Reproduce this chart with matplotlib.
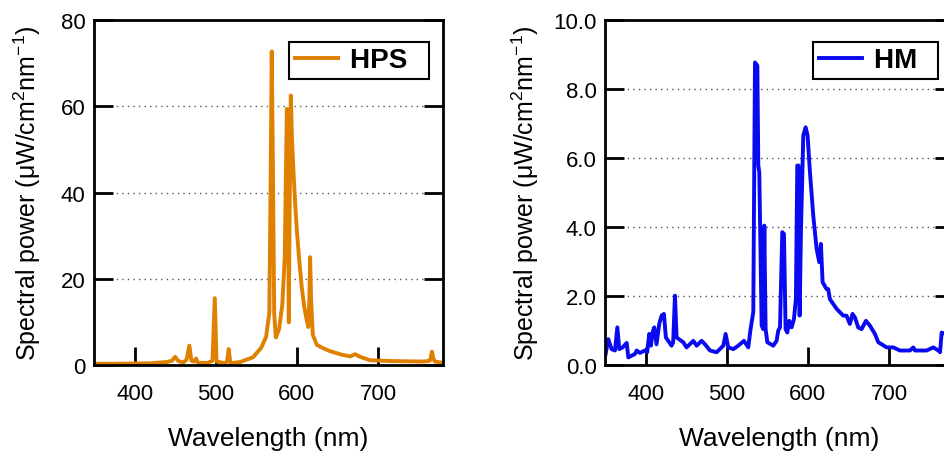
import matplotlib.pyplot as plt
import numpy as np

plt.rcParams['font.family'] = ['Liberation Sans', 'DejaVu Sans']
plt.rcParams['mathtext.fontset'] = 'custom'
plt.rcParams['mathtext.rm'] = 'Liberation Sans'
plt.rcParams['mathtext.it'] = 'Liberation Sans:italic'

# HPS lamp spectrum
hps_wl = [350, 380, 420, 440, 446, 450, 454, 460, 464, 467.5, 470, 473, 475.8, 478, 490,
          496, 498.8, 501, 512, 514, 516, 518, 530, 546, 556, 562, 566, 567.5, 569,
          570.5, 572, 574, 578, 582, 585, 587.6, 589, 590, 591, 592.5, 594, 596,
          598, 600, 603, 606, 609, 612, 614, 615.3, 616.3, 617.5, 619.6, 624.5, 632,
          641, 655, 665.7, 671.8, 678, 690, 720, 756, 764, 766.4, 768, 770, 780]
hps_val = [0.3, 0.3, 0.4, 0.7, 1.0, 1.9, 0.9, 0.6, 1.2, 4.5, 1.0, 0.8, 1.5, 0.5, 0.5,
           1.0, 15.5, 0.8, 0.4, 1.0, 3.7, 0.4, 0.7, 1.8, 4.0, 6.5, 12.0, 40.0, 72.7,
           45.0, 12.0, 6.4, 8.3, 14.0, 25.0, 59.4, 40.0, 9.9, 35.0, 62.5, 52.0, 44.0,
           37.0, 31.0, 24.0, 18.0, 13.5, 10.5, 8.8, 15.0, 25.0, 15.0, 7.0, 4.7, 3.9,
           3.2, 2.4, 2.0, 2.5, 1.9, 1.1, 0.9, 0.8, 1.0, 3.1, 1.5, 0.8, 0.5]

# HM lamp spectrum
hm_wl = [350.8, 354, 358.2, 362.3, 365.2, 367.6, 371.7, 376.7, 378.7, 386.9, 389, 393,
         399.2, 402, 404.5, 406.6, 408.6, 410.7, 413.5, 416.8, 419.7, 422.6, 425, 432,
         434, 436.2, 438.2, 446.4, 450.5, 458.8, 462.9, 469, 473.2, 479.3, 487.5,
         495.8, 498.6, 501.9, 508, 514.2, 521.2, 526.5, 529.4, 532.7, 534.8, 537.7,
         538.9, 540.1, 543, 545, 546.3, 547.9, 550, 557.3, 561.4, 563.5, 565.6, 568.4,
         570.5, 572.5, 574.6, 577, 579.9, 582.8, 585.2, 586.9, 588.5, 589.8, 591.4,
         594.3, 597.2, 599.6, 602.5, 606.6, 610.7, 614, 616, 618.1, 623, 625, 627.1,
         635.3, 643.5, 647.6, 651.7, 655, 657.9, 662, 666.1, 671.5, 676.4, 682.6,
         686.7, 697, 705.2, 713.4, 725.8, 729.9, 731.9, 746.3, 754.5, 760.7, 762.8,
         764.8, 770, 780]
hm_val = [0.32, 0.75, 0.46, 0.42, 1.09, 0.46, 0.51, 0.64, 0.22, 0.32, 0.42, 0.35,
          0.42, 0.37, 0.9, 0.56, 0.94, 1.09, 0.6, 1.19, 1.43, 1.48, 0.8, 0.56,
          0.66, 2.01, 0.8, 0.66, 0.51, 0.7, 0.56, 0.7, 0.6, 0.42, 0.37,
          0.56, 0.9, 0.51, 0.46, 0.56, 0.7, 0.51, 1.05, 1.53, 8.77, 8.68,
          5.78, 5.59, 1.14, 1.04, 4.04, 1.04, 0.66, 0.56, 0.7, 1.0, 1.09, 3.85,
          3.8, 1.04, 0.94, 1.28, 1.09, 1.33, 1.91, 5.78, 5.78, 1.43, 3.85,
          6.65, 6.89, 6.65, 5.59, 4.33, 3.37, 2.98, 3.51, 2.4, 2.2, 2.2, 1.91,
          1.63, 1.43, 1.43, 1.19, 1.48, 1.38, 1.09, 1.04, 1.28, 1.14, 0.9,
          0.66, 0.51, 0.51, 0.42, 0.42, 0.51, 0.42, 0.42, 0.51, 0.42, 0.37,
          0.94, 0.9, 0.8]

xticks = [400, 500, 600, 700]
ylabel = 'Spectral power ($\\mathrm{\\mu}$W/cm$^{2}$nm$^{-1}$)'

fig = plt.figure(figsize=(9.44, 4.52), dpi=100)
W, H = 944, 452
ax1 = fig.add_axes([94 / W, 86 / H, 349 / W, 345 / H])
ax2 = fig.add_axes([605 / W, 86 / H, 349 / W, 345 / H])


def style(ax, ymax, step, fmt, ypad):
    ax.set_xlim(350, 780)
    ax.set_ylim(0, ymax)
    ax.set_xticks(xticks)
    ax.set_yticks(np.arange(0, ymax + step / 2, step))
    ax.yaxis.set_major_formatter(plt.FormatStrFormatter(fmt))
    ax.tick_params(direction='in', length=13, width=2, labelsize=16,
                   right=True, top=False)
    ax.tick_params(axis='x', pad=13)
    ax.tick_params(axis='y', length=14, pad=6)
    for s in ax.spines.values():
        s.set_linewidth(2)
    ax.grid(axis='y', linestyle=(0, (1, 3)), color='#555555', linewidth=1)
    ax.set_xlabel('Wavelength (nm)', fontsize=19, labelpad=16)
    ax.set_ylabel(ylabel, fontsize=18, labelpad=ypad)


def legend(ax, x):
    leg = ax.legend(loc='upper left', bbox_to_anchor=(x, 0.937), borderaxespad=0,
                    prop={'weight': 'bold', 'size': 20}, fancybox=False,
                    edgecolor='black', framealpha=1, handlelength=1.55,
                    handletextpad=0.45, borderpad=0.2)
    leg.get_frame().set_linewidth(1.5)


ax1.plot(hps_wl, hps_val, color='#E08000', linewidth=2.8, label='HPS  ')
style(ax1, 80, 20, '%d', 13)
legend(ax1, 0.559)

ax2.plot(hm_wl, hm_val, color='#0A0AF0', linewidth=2.8, label='HM  ')
style(ax2, 10, 2, '%.1f', 9)
legend(ax2, 0.596)

fig.savefig('out.png', dpi=100)
